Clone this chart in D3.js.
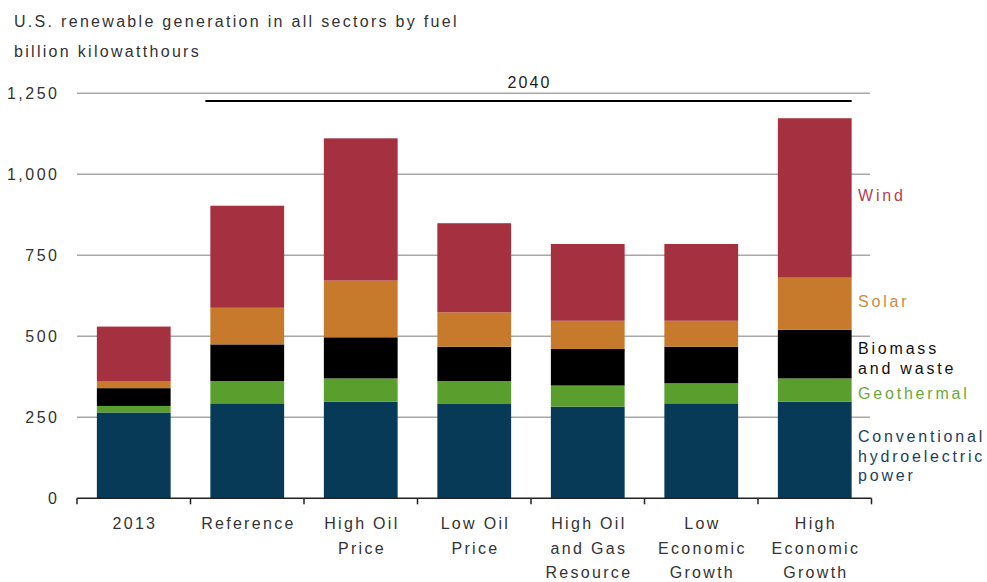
<!DOCTYPE html>
<html>
<head>
<meta charset="utf-8">
<script src="https://cdn.jsdelivr.net/npm/d3@7"></script>
<style>
  html, body { margin: 0; padding: 0; background: #fff; }
  svg text { font-family: Arial, "Liberation Sans", sans-serif; }
</style>
</head>
<body>
<svg id="chart" width="987" height="582"></svg>
<script>
// ---- data ----
const categories = ["2013", "Reference", "High Oil Price", "Low Oil Price", "High Oil and Gas Resource", "Low Economic Growth", "High Economic Growth"];
const categoryLines = [["2013"], ["Reference"], ["High Oil", "Price"], ["Low Oil", "Price"], ["High Oil", "and Gas", "Resource"], ["Low", "Economic", "Growth"], ["High", "Economic", "Growth"]];
const hydro      = [265, 293, 298, 291, 283, 293, 298];
const geothermal = [20, 69, 72, 71, 65, 62, 72];
const biomass    = [55, 113, 127, 106, 113, 113, 150];
const solar      = [22, 113, 175, 106, 87, 80, 161];
const wind       = [168, 315, 439, 275, 237, 237, 492];
const seriesNames = ["Conventional hydroelectric power", "Geothermal", "Biomass and waste", "Solar", "Wind"];
const yTicks = [0, 250, 500, 750, 1000, 1250];
const title = "U.S. renewable generation in all sectors by fuel";
const unitLabel = "billion kilowatthours";
const groupLabel = "2040";

// ---- styling ----
const colors = ["#063a57", "#5a9e2d", "#000000", "#c77a2c", "#a5303f"];
const labelColors = ["#1d3f5c", "#6aa83a", "#111111", "#d08a40", "#b04252"];
const legendLines = [["Conventional", "hydroelectric", "power"], ["Geothermal"], ["Biomass", "and waste"], ["Solar"], ["Wind"]];
const legendY = [436, 393, 348, 301, 195];

const svg = d3.select("#chart");
const plotLeft = 77, plotRight = 871.5, plotTop = 93.3, plotBottom = 498.3;

const x = d3.scaleBand().domain(categories).range([plotLeft, plotRight]).paddingInner(0.35).paddingOuter(0.175);
const y = d3.scaleLinear().domain([0, 1250]).range([plotBottom, plotTop]);

const table = categories.map((c, i) => ({cat: c, s0: hydro[i], s1: geothermal[i], s2: biomass[i], s3: solar[i], s4: wind[i]}));
const stack = d3.stack().keys(["s0", "s1", "s2", "s3", "s4"]);
const layers = stack(table);

const fontSize = 16;

// gridlines
svg.append("g").selectAll("line").data(yTicks.filter(d => d > 0)).join("line")
  .attr("x1", plotLeft).attr("x2", 870)
  .attr("y1", d => y(d)).attr("y2", d => y(d))
  .attr("stroke", "#a8a8a8").attr("stroke-width", 1.5);

// y tick labels
const lsY = 2.5;
svg.append("g").selectAll("text").data(yTicks).join("text")
  .attr("x", 57 + lsY).attr("y", d => y(d)).attr("dy", "0.36em")
  .attr("text-anchor", "end").attr("font-size", fontSize).attr("fill", "#333")
  .attr("letter-spacing", lsY + "px")
  .text(d => d3.format(",")(d));

// bars
svg.append("g").selectAll("g").data(layers).join("g")
  .attr("fill", (d, i) => colors[i])
  .selectAll("rect").data(d => d).join("rect")
  .attr("x", d => x(d.data.cat))
  .attr("width", x.bandwidth())
  .attr("y", d => y(d[1]))
  .attr("height", d => y(d[0]) - y(d[1]));

// x axis line and ticks
const step = x.step();
svg.append("line").attr("x1", plotLeft).attr("x2", plotRight).attr("y1", plotBottom).attr("y2", plotBottom)
  .attr("stroke", "#222").attr("stroke-width", 1.5);
svg.append("g").selectAll("line").data(d3.range(categories.length + 1)).join("line")
  .attr("x1", i => plotLeft + i * step).attr("x2", i => plotLeft + i * step)
  .attr("y1", plotBottom).attr("y2", plotBottom + 6)
  .attr("stroke", "#222").attr("stroke-width", 1.5);

// x labels
const lsX = 2.3;
const xl = svg.append("g").selectAll("text").data(categories).join("text")
  .attr("text-anchor", "middle").attr("font-size", fontSize).attr("fill", "#333")
  .attr("letter-spacing", lsX + "px");
xl.each(function(d, i) {
  const t = d3.select(this);
  categoryLines[i].forEach((line, j) => {
    t.append("tspan").attr("x", x(d) + x.bandwidth() / 2 + lsX / 2).attr("y", 529 + j * 24.5).text(line);
  });
});

// 2040 bracket
const bx1 = x("Reference") - 5, bx2 = x("High Economic Growth") + x.bandwidth();
svg.append("line")
  .attr("x1", bx1).attr("x2", bx2)
  .attr("y1", 101).attr("y2", 101).attr("stroke", "#000").attr("stroke-width", 2);
svg.append("text")
  .attr("x", (bx1 + bx2) / 2 + 1)
  .attr("y", 88).attr("text-anchor", "middle").attr("font-size", fontSize).attr("fill", "#222")
  .attr("letter-spacing", "2.1px").text(groupLabel);

// legend labels
seriesNames.forEach((name, i) => {
  const t = svg.append("text").attr("font-size", fontSize).attr("fill", labelColors[i]).attr("letter-spacing", "2.8px");
  legendLines[i].forEach((line, j) => {
    t.append("tspan").attr("x", 858).attr("y", legendY[i] + 6 + j * 19.5).text(line);
  });
});

// title
svg.append("text").attr("x", 14).attr("y", 27).attr("font-size", fontSize).attr("fill", "#333")
  .attr("letter-spacing", "2.3px").text(title);
svg.append("text").attr("x", 14).attr("y", 57).attr("font-size", fontSize).attr("fill", "#333")
  .attr("letter-spacing", "2.3px").text(unitLabel);
</script>
</body>
</html>
